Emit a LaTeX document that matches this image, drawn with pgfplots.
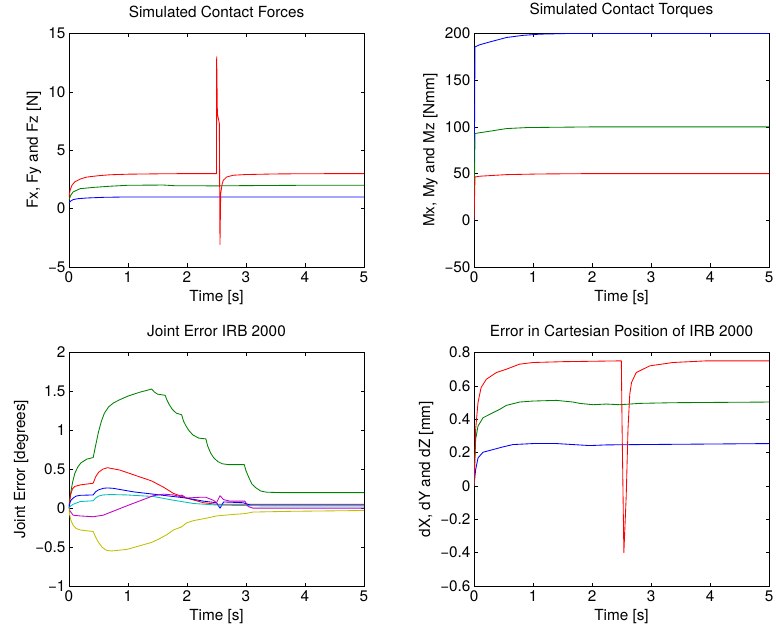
\documentclass[border=0pt]{standalone}
\usepackage{fontspec}
\setmainfont{TeX Gyre Heros}
\usepackage{pgfplots}
\pgfplotsset{compat=1.18}
\definecolor{mblue}{rgb}{0,0,1}
\definecolor{mgreen}{rgb}{0,0.5,0}
\definecolor{mred}{rgb}{1,0,0}
\definecolor{mcyan}{rgb}{0,0.75,0.75}
\definecolor{mmag}{rgb}{0.75,0,0.75}
\definecolor{myel}{rgb}{0.75,0.75,0}
\pgfplotsset{
  mat/.style={
    scale only axis, width=295pt, height=233.5pt, anchor=south west,
    xmin=0, xmax=5, xtick={0,1,2,3,4,5},
    axis line style={line width=0.8pt, black},
    tick style={line width=0.6pt, black},
    major tick length=3.5pt, tick align=inside,
    xtick pos=both, ytick pos=both,
    xticklabel pos=left, yticklabel pos=left,
    xlabel={Time [s]},
    /pgf/number format/assume math mode=true,
    tick label style={font=\fontsize{15.3}{18}\selectfont},
    xticklabel style={yshift=-1pt},
    label style={font=\fontsize{15.3}{18}\selectfont},
    xlabel style={yshift=-1pt},
    title style={font=\fontsize{15.3}{18}\selectfont, yshift=6pt},
    every axis plot/.append style={line width=0.85pt, no marks, line join=round},
  }
}
\begin{document}
\begin{tikzpicture}
\path[use as bounding box] (0pt,0pt) rectangle (776pt,632pt);
% Top left
\begin{axis}[mat, at={(69pt,365pt)},
  ymin=-5, ymax=15, ytick={-5,0,5,10,15}, yticklabels={−5,0,5,10,15},
  ylabel={Fx, Fy and Fz [N]}, title={Simulated Contact Forces}]
\addplot[mblue] coordinates {(0,0.5) (0.03,0.65) (0.07,0.77) (0.15,0.85) (0.3,0.91) (0.6,0.97) (1.0,1.0) (2.0,1.0) (3.0,1.0) (5.0,1.0)};
\addplot[mgreen] coordinates {(0,0.75) (0.03,1.15) (0.07,1.43) (0.19,1.71) (0.42,1.82) (0.7,1.92) (1.0,2.0) (1.6,2.02) (1.8,1.96) (2.5,1.95) (3.0,1.97) (4.0,2.0) (5.0,2.0)};
\addplot[mred] coordinates {(0,1.0) (0.02,1.6) (0.05,2.0) (0.1,2.3) (0.2,2.55) (0.3,2.7) (0.5,2.82) (0.7,2.9) (1.0,2.95) (1.5,2.98) (2.0,3.0) (2.5,3.0) (2.503,13.0) (2.515,8.14) (2.548,7.29) (2.559,-3.06) (2.571,1.29) (2.595,2.1) (2.616,2.43) (2.672,2.71) (2.785,2.86) (3.0,2.92) (3.5,2.97) (4.0,2.99) (5.0,3.0)};
\end{axis}
% Top right
\begin{axis}[mat, at={(474pt,365pt)},
  ymin=-50, ymax=200, ytick={-50,0,50,100,150,200}, yticklabels={−50,0,50,100,150,200},
  ylabel={Mx, My and Mz [Nmm]}, title={Simulated Contact Torques}]
\addplot[mblue] coordinates {(0,0) (0.017,185.7) (0.1,188) (0.27,191) (0.55,195.7) (0.83,198) (1.12,199.3) (1.6,200) (5.0,200)};
\addplot[mgreen] coordinates {(0,0) (0.017,92.9) (0.1,93.8) (0.27,95.4) (0.55,98.2) (0.9,99.3) (2.0,100) (5.0,100)};
\addplot[mred] coordinates {(0,0) (0.017,46.4) (0.1,47.2) (0.55,48.9) (1.12,49.6) (2.0,50) (5.0,50)};
\end{axis}
% Bottom left
\begin{axis}[mat, at={(69pt,46pt)},
  ymin=-1, ymax=2, ytick={-1,-0.5,0,0.5,1,1.5,2}, yticklabels={−1,−0.5,0,0.5,1,1.5,2},
  ylabel={Joint Error [degrees]}, title={Joint Error IRB 2000}]
\addplot[mgreen] coordinates {(0,0) (0.01,0.1) (0.03,0.2) (0.06,0.33) (0.1,0.45) (0.15,0.53) (0.2,0.58) (0.3,0.63) (0.41,0.65) (0.45,0.80) (0.5,0.98) (0.55,1.12) (0.6,1.22) (0.67,1.30) (0.75,1.35) (0.85,1.39) (1.0,1.44) (1.2,1.49) (1.40,1.53) (1.45,1.49) (1.5,1.465) (1.63,1.45) (1.66,1.39) (1.7,1.33) (1.75,1.27) (1.82,1.22) (1.91,1.20) (1.94,1.12) (1.98,1.06) (2.03,1.0) (2.1,0.94) (2.2,0.90) (2.32,0.89) (2.35,0.80) (2.4,0.71) (2.45,0.65) (2.52,0.60) (2.6,0.57) (2.7,0.56) (2.97,0.56) (3.0,0.48) (3.05,0.39) (3.1,0.31) (3.17,0.26) (3.25,0.22) (3.35,0.205) (3.6,0.20) (5.0,0.20)};
\addplot[mred] coordinates {(0,0) (0.01,0.08) (0.03,0.18) (0.06,0.25) (0.1,0.28) (0.2,0.30) (0.41,0.32) (0.45,0.40) (0.5,0.46) (0.57,0.50) (0.65,0.52) (0.86,0.49) (1.09,0.43) (1.40,0.35) (1.60,0.27) (1.77,0.19) (1.99,0.13) (2.28,0.07) (2.50,0.05) (3.01,0.05) (5.0,0.05)};
\addplot[mblue] coordinates {(0,0) (0.01,0.05) (0.03,0.1) (0.07,0.13) (0.12,0.155) (0.19,0.165) (0.41,0.17) (0.45,0.21) (0.5,0.235) (0.58,0.255) (0.65,0.26) (0.75,0.255) (1.09,0.21) (1.54,0.17) (1.99,0.13) (2.28,0.09) (2.50,0.07) (2.56,0.0) (2.62,0.08) (2.95,0.07) (3.07,0.04) (5.0,0.04)};
\addplot[mcyan] coordinates {(0,0) (0.03,0.03) (0.07,0.05) (0.19,0.085) (0.41,0.095) (0.45,0.13) (0.5,0.155) (0.58,0.17) (0.7,0.175) (0.98,0.17) (1.43,0.15) (1.71,0.11) (2.11,0.06) (2.50,0.04) (3.24,0.03) (5.0,0.03)};
\addplot[mmag] coordinates {(0,0) (0.02,-0.04) (0.07,-0.09) (0.19,-0.10) (0.41,-0.11) (0.58,-0.09) (0.98,0.03) (1.43,0.16) (1.60,0.18) (1.77,0.17) (1.88,0.15) (1.91,0.17) (1.99,0.13) (2.22,0.14) (2.32,0.14) (2.45,0.10) (2.50,0.07) (2.56,0.16) (2.62,0.11) (2.73,0.09) (2.98,0.09) (3.04,0.02) (3.12,0.0) (5.0,0.0)};
\addplot[myel] coordinates {(0,0) (0.01,-0.08) (0.03,-0.15) (0.07,-0.22) (0.12,-0.26) (0.19,-0.28) (0.41,-0.30) (0.45,-0.37) (0.5,-0.44) (0.56,-0.50) (0.63,-0.54) (0.72,-0.55) (0.98,-0.53) (1.40,-0.44) (1.54,-0.39) (1.66,-0.34) (1.77,-0.28) (1.91,-0.24) (1.99,-0.19) (2.11,-0.16) (2.32,-0.13) (2.50,-0.10) (2.79,-0.08) (2.98,-0.07) (3.12,-0.05) (3.8,-0.04) (5.0,-0.03)};
\end{axis}
% Bottom right
\begin{axis}[mat, at={(474pt,46pt)},
  ymin=-0.6, ymax=0.8, ytick={-0.6,-0.4,-0.2,0,0.2,0.4,0.6,0.8}, yticklabels={−0.6,−0.4,−0.2,0,0.2,0.4,0.6,0.8},
  ylabel={dX, dY and dZ [mm]}, title={Error in Cartesian Position of IRB 2000}]
\addplot[mblue] coordinates {(0,0) (0.028,0.098) (0.068,0.168) (0.153,0.202) (0.322,0.218) (0.49,0.234) (0.66,0.248) (1.0,0.254) (1.4,0.254) (1.68,0.248) (1.96,0.242) (2.24,0.246) (2.81,0.248) (5.0,0.254)};
\addplot[mgreen] coordinates {(0,0) (0.028,0.28) (0.068,0.359) (0.153,0.409) (0.322,0.439) (0.435,0.459) (0.548,0.483) (0.774,0.503) (1.0,0.509) (1.395,0.513) (1.678,0.503) (1.79,0.495) (2.02,0.487) (2.24,0.491) (2.47,0.487) (2.81,0.495) (3.37,0.499) (5.0,0.503)};
\addplot[mred] coordinates {(0,0) (0.028,0.34) (0.068,0.50) (0.12,0.59) (0.21,0.64) (0.38,0.68) (0.55,0.70) (0.77,0.73) (1.0,0.74) (1.5,0.745) (2.497,0.75) (2.51,0.35) (2.54,-0.40) (2.58,-0.06) (2.61,0.34) (2.64,0.55) (2.67,0.62) (2.75,0.68) (2.98,0.72) (3.37,0.74) (3.94,0.75) (5.0,0.75)};
\end{axis}
\end{tikzpicture}
\end{document}
